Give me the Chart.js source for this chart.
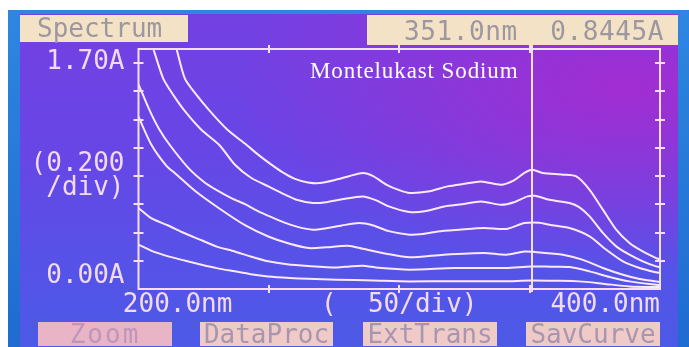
<!DOCTYPE html>
<html><head><meta charset="utf-8">
<script src="https://cdn.jsdelivr.net/npm/chart.js@4/dist/chart.umd.min.js"></script>
<style>
html,body{margin:0;padding:0;background:#fff;width:689px;height:347px;overflow:hidden;position:relative;}
#bezel{position:absolute;left:8px;top:10px;width:681px;height:337px;background:linear-gradient(180deg,#2f86e0,#1f6bd0);}
#screen{position:absolute;left:20px;top:14px;width:658px;height:333px;
 background:radial-gradient(ellipse 60% 55% at 92% 22%, rgba(175,40,205,0.8), rgba(175,40,205,0) 100%),
            linear-gradient(180deg,#7440e2 0%,#6846e6 40%,#5652e8 75%,#4c5ae6 100%);}
canvas{position:absolute;left:0;top:0;}
.box{position:absolute;font-family:"DejaVu Sans Mono",monospace;font-size:26px;box-sizing:border-box;white-space:pre;}
#spec{left:20px;top:15px;width:168px;height:27px;line-height:27px;background:#f4e2c6;color:#9c97a0;padding-left:17px;}
#read{left:367px;top:15px;width:311px;height:30px;line-height:32px;background:#f4e2c6;color:#9c97a0;text-align:right;padding-right:14px;letter-spacing:0.6px;}
.btn{top:322px;height:24px;line-height:24px;text-align:center;background:#efcac6;color:#a896b0;}
#title{position:absolute;left:310px;top:60px;font-family:"Liberation Serif",serif;font-size:23px;line-height:22px;color:#fff;letter-spacing:0.9px;white-space:pre;}
</style></head>
<body>
<div id="bezel"></div>
<div id="screen"></div>
<canvas id="c" width="689" height="347"></canvas>
<div class="box" id="spec">Spectrum</div>
<div class="box" id="read">351.0nm  0.8445A</div>
<div class="box btn" style="left:38px;width:134px;background:#e8b4c6;color:#bd96ba;letter-spacing:2px;">Zoom</div>
<div class="box btn" style="left:200px;width:133px;">DataProc</div>
<div class="box btn" style="left:363px;width:134px;">ExtTrans</div>
<div class="box btn" style="left:526px;width:134px;">SavCurve</div>
<div id="title">Montelukast Sodium</div>
<script>
// wavelengths (nm) and absorbances (A) for the six spectra
const wl1 = [214.6,217.8,222,227.4,234,240.8,246,250.3,255,260,265,269.5,275,281,286,290,295,300,304,311,318.6,325,331.4,339,344,348,351,355,362.8,367.9,373,378.1,383.2,388.3,393.4,398.5,400];
const abs1 = [1.70,1.49,1.38,1.26,1.13,1.03,0.95,0.89,0.83,0.78,0.755,0.75,0.77,0.80,0.822,0.80,0.74,0.70,0.68,0.69,0.727,0.745,0.762,0.739,0.77,0.822,0.8445,0.822,0.81,0.797,0.703,0.562,0.42,0.326,0.266,0.219,0.21];
const wl2 = [205.7,209.5,213.5,217.8,224,231,237,243,250,256,261,266.9,272,278,286,291,296,303.9,309.7,317.3,324,331.4,339,344,349.2,352,357.6,365.3,369,373,378.1,383.2,388.3,393.4,398.5,400];
const abs2 = [1.70,1.49,1.37,1.26,1.13,1.02,0.88,0.79,0.725,0.67,0.63,0.609,0.615,0.635,0.656,0.63,0.585,0.545,0.55,0.585,0.60,0.62,0.597,0.615,0.656,0.66,0.632,0.609,0.58,0.514,0.397,0.302,0.243,0.196,0.16,0.155];
const wl3 = [200,204.4,208,212,219,225,230,236,241,246,250.3,256,261,266.9,272,278,284.6,290,296,303.9,309,314.8,323,332.6,341,348,353.7,357.6,365.3,373,379.4,385.8,392.2,398.5,400];
const abs3 = [1.45,1.26,1.13,1.02,0.86,0.76,0.70,0.64,0.60,0.55,0.514,0.47,0.44,0.42,0.43,0.45,0.467,0.45,0.41,0.385,0.39,0.408,0.42,0.432,0.425,0.467,0.47,0.455,0.432,0.373,0.278,0.196,0.149,0.118,0.113];
const wl4 = [200,205,210.8,214,222,231,241,250,258,265.3,272,280.3,286,295,303.9,317,332.6,341,348,352,362.8,370.2,378.1,385.8,392.2,398.5,400];
const abs4 = [1.22,1.02,0.87,0.82,0.69,0.57,0.45,0.37,0.32,0.29,0.295,0.307,0.285,0.25,0.225,0.243,0.255,0.243,0.266,0.262,0.243,0.208,0.149,0.101,0.071,0.054,0.05];
const wl5 = [200,205,211.4,217,224.2,230,236.9,243,249.7,257,265,275.9,281,286,292,303.9,321,341,350.5,358,365.3,373,380.7,388.3,398.5,400];
const abs5 = [0.574,0.50,0.45,0.40,0.345,0.30,0.266,0.23,0.196,0.175,0.163,0.152,0.16,0.165,0.15,0.137,0.149,0.149,0.16,0.158,0.156,0.125,0.085,0.054,0.03,0.028];
const wl6 = [200,205,211.4,218,224.2,230,236.9,243,249.7,258,265,275.9,290,303.9,320,340,350.5,360,369,378.1,388.3,398.5,400];
const abs6 = [0.314,0.27,0.231,0.2,0.172,0.148,0.125,0.105,0.089,0.078,0.072,0.066,0.06,0.054,0.055,0.055,0.06,0.058,0.054,0.038,0.018,0.014,0.013];

const cursorNm = 351;
const xTickValues = [200,250,300,350,400];
const xTickLabels = ["     200.0nm","","(  50/div)","","400.0nm       "];
const yTickValues = [0,0.2,0.4,0.6,0.8,1.0,1.2,1.4,1.6,1.7];
const yTickLabels = [["0.00A",""],"","","",["(0.200"," /div)"],"","","","",["","1.70A"]];

const wls = [wl1,wl2,wl3,wl4,wl5,wl6];
const abss = [abs1,abs2,abs3,abs4,abs5,abs6];
const lineColor = '#fbe9fb';
const axisColor = '#f4def4';
const labelColor = '#f3daf3';
const mono = '"DejaVu Sans Mono", monospace';

const datasets = wls.map((w,k) => ({
  data: w.map((x,i) => ({x, y: abss[k][i]})),
  borderColor: lineColor, borderWidth: 2, pointRadius: 0, tension: 0.25, fill: false
}));

const framePlugin = {
  id: 'frame',
  afterDatasetsDraw(chart) {
    const {ctx, chartArea: a, scales: {x, y}} = chart;
    ctx.save();
    ctx.strokeStyle = axisColor;
    ctx.lineWidth = 2;
    ctx.strokeRect(a.left, a.top, a.right - a.left, a.bottom - a.top);
    ctx.beginPath();
    yTickValues.forEach(v => {
      if (v > 0 && v < 1.7) {
        const py = Math.round(y.getPixelForValue(v));
        ctx.moveTo(a.left - 5, py); ctx.lineTo(a.left + 5, py);
        ctx.moveTo(a.right - 5, py); ctx.lineTo(a.right + 5, py);
      }
    });
    xTickValues.forEach(v => {
      if (v > 200 && v < 400) {
        const px = Math.round(x.getPixelForValue(v));
        ctx.moveTo(px, a.top - 4); ctx.lineTo(px, a.top + 4);
        ctx.moveTo(px, a.bottom - 4); ctx.lineTo(px, a.bottom + 4);
      }
    });
    ctx.stroke();
    const cx = Math.round(x.getPixelForValue(cursorNm));
    ctx.beginPath();
    ctx.moveTo(cx, a.top - 4); ctx.lineTo(cx, a.bottom + 3);
    ctx.stroke();
    ctx.restore();
  }
};

new Chart(document.getElementById('c'), {
  type: 'line',
  data: { datasets },
  plugins: [framePlugin],
  options: {
    responsive: false, animation: false, devicePixelRatio: 1,
    layout: { padding: { left: 0, right: 29, top: 49, bottom: 28 } },
    plugins: { legend: { display: false }, tooltip: { enabled: false }, title: { display: false } },
    scales: {
      x: {
        type: 'linear', min: 200, max: 400,
        grid: { display: false, drawTicks: false }, border: { display: false },
        afterBuildTicks: s => { s.ticks = xTickValues.map(v => ({ value: v })); },
        afterFit: s => { s.height = 30; s.paddingLeft = 0; s.paddingRight = 0; },
        ticks: {
          autoSkip: false, maxRotation: 0, minRotation: 0, padding: 3, color: labelColor,
          font: { family: mono, size: 26, lineHeight: 1 },
          callback: (v, i) => xTickLabels[i]
        }
      },
      y: {
        type: 'linear', min: 0, max: 1.7,
        grid: { display: false, drawTicks: false }, border: { display: false },
        afterBuildTicks: s => { s.ticks = yTickValues.map(v => ({ value: v })); },
        afterFit: s => { s.width = 138.5; s.paddingTop = 0; s.paddingBottom = 0; },
        ticks: {
          autoSkip: false, padding: 14, color: labelColor,
          font: ctx => ({ family: mono, size: 26, lineHeight: ctx.index === 4 ? 0.9 : 1.0 }),
          callback: (v, i) => yTickLabels[i]
        }
      }
    }
  }
});
</script>
</body></html>
